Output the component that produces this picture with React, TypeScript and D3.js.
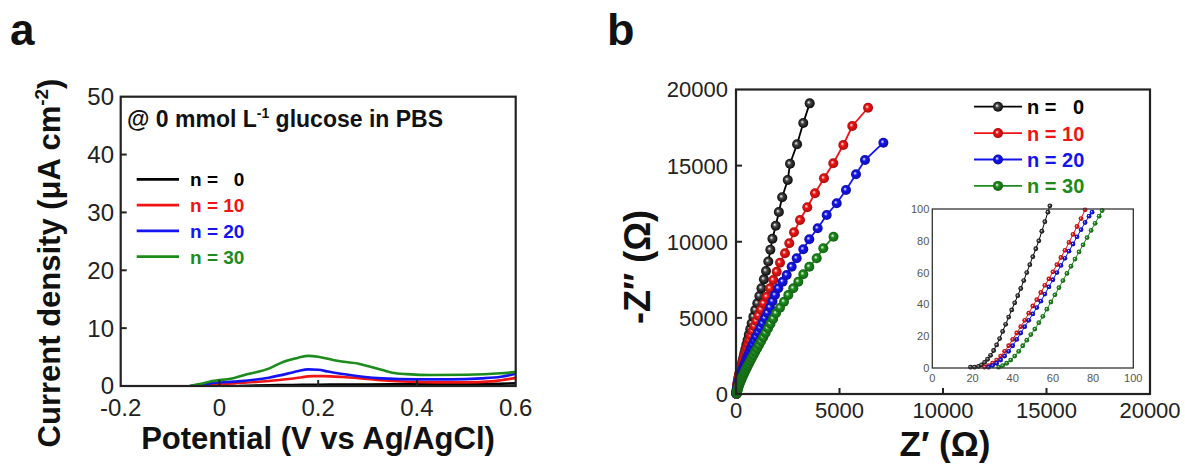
import React from 'react';
import * as d3 from 'd3';

const FONT = "'Liberation Sans', Arial, Helvetica, sans-serif";

// ---------- shared legend ----------
const seriesNames = ['n =   0', 'n = 10', 'n = 20', 'n = 30'];
const seriesColors = ['#000000', '#f01414', '#1414f0', '#1c8c1c'];

// ---------- panel a : current density vs potential ----------
const aXTicks = [-0.2, 0, 0.2, 0.4, 0.6];
const aXTickLabels = ['-0.2', '0', '0.2', '0.4', '0.6'];
const aYTicks = [0, 10, 20, 30, 40, 50];

const cvN0: [number, number][] = [
  [0.04, 0], [0.1, 0.12], [0.15, 0.17], [0.2, 0.22], [0.3, 0.27], [0.4, 0.29], [0.5, 0.3], [0.55, 0.35], [0.6, 0.46],
];
const cvN10: [number, number][] = [
  [-0.05, 0], [-0.04, 0.05], [0, 0.3], [0.03, 0.46], [0.1, 0.86], [0.15, 1.3], [0.19, 1.7], [0.21, 1.7], [0.25, 1.55],
  [0.3, 1.2], [0.35, 0.86], [0.4, 0.7], [0.45, 0.63], [0.5, 0.63], [0.55, 0.8], [0.57, 1.0], [0.6, 1.4],
];
const cvN20: [number, number][] = [
  [-0.06, 0], [-0.04, 0.2], [-0.02, 0.45], [0.03, 0.75], [0.1, 1.44], [0.14, 2.18], [0.16, 2.6], [0.18, 2.87], [0.2, 2.8],
  [0.22, 2.5], [0.25, 2.07], [0.29, 1.61], [0.33, 1.32], [0.4, 1.15], [0.47, 1.15], [0.53, 1.32], [0.57, 1.6], [0.6, 2.1],
];
const cvN30: [number, number][] = [
  [-0.06, 0], [-0.04, 0.35], [-0.02, 0.75], [0.03, 1.4], [0.06, 2.1], [0.1, 3.0], [0.13, 4.2], [0.16, 4.9], [0.18, 5.2],
  [0.2, 5.05], [0.23, 4.5], [0.26, 4.1], [0.28, 3.9], [0.3, 3.45], [0.33, 2.75], [0.35, 2.3], [0.38, 2.05], [0.43, 1.9],
  [0.5, 1.95], [0.57, 2.2], [0.6, 2.4],
];

// ---------- panel b : Nyquist plot ----------
const bTicks = [0, 5000, 10000, 15000, 20000];

const eisN0: [number, number][] = [
  [19, 5], [20, 25], [22, 60], [25, 100], [29, 140], [33, 185], [38, 235], [44, 290], [50, 350], [57, 420], [66, 490],
  [76, 570], [88, 660], [100, 760], [115, 870], [130, 990], [150, 1120], [170, 1260], [195, 1410], [220, 1580],
  [250, 1760], [285, 1960], [320, 2180], [360, 2410], [400, 2660], [450, 2940], [500, 3230], [560, 3550], [620, 3890],
  [690, 4260], [760, 4650], [840, 5080], [930, 5520], [1030, 5960], [1130, 6440], [1230, 6950], [1350, 7530],
  [1450, 8080], [1560, 8700], [1660, 9480], [1760, 10200], [1920, 11050], [2070, 11950], [2230, 12920], [2500, 14050],
  [2610, 15120], [2950, 16400], [3250, 17800], [3560, 19090],
];
const eisN10: [number, number][] = [
  [25, 5], [25, 30], [26, 70], [27, 110], [29, 160], [31, 210], [34, 270], [38, 330], [43, 400], [49, 470], [56, 550],
  [64, 630], [74, 720], [85, 820], [98, 920], [113, 1030], [130, 1150], [150, 1270], [172, 1400], [198, 1540],
  [228, 1690], [260, 1850], [298, 2020], [338, 2200], [380, 2390], [425, 2590], [475, 2810], [530, 3040], [590, 3290],
  [655, 3550], [725, 3830], [805, 4130], [890, 4450], [985, 4790], [1090, 5150], [1210, 5540], [1340, 5950],
  [1483, 6391], [1643, 6942], [1802, 7488], [1966, 8033], [2126, 8624], [2367, 9241], [2575, 9898], [2802, 10621],
  [3092, 11429], [3444, 12263], [3816, 13182], [4251, 14168], [4700, 15153], [5184, 16355], [5618, 17603],
  [6380, 18800],
];
const eisN20: [number, number][] = [
  [30, 10], [32, 45], [35, 90], [39, 140], [44, 200], [50, 260], [57, 330], [66, 400], [76, 480], [88, 560], [102, 650],
  [120, 740], [140, 840], [162, 940], [186, 1050], [212, 1170], [242, 1300], [275, 1430], [310, 1570], [350, 1720],
  [395, 1880], [442, 2040], [492, 2220], [545, 2400], [605, 2600], [668, 2810], [738, 3030], [812, 3260], [892, 3510],
  [980, 3770], [1075, 4050], [1178, 4340], [1288, 4650], [1400, 4980], [1520, 5330], [1640, 5700], [1760, 6090],
  [1884, 6502], [2043, 6942], [2256, 7376], [2449, 7816], [2690, 8361], [2932, 8913], [3251, 9504], [3541, 10161],
  [3947, 10883], [4382, 11757], [4865, 12525], [5314, 13399], [5797, 14430], [6232, 15369], [7120, 16506],
];
const eisN30: [number, number][] = [
  [37, 15], [40, 50], [45, 90], [51, 135], [58, 185], [67, 240], [77, 300], [90, 360], [106, 430], [124, 500], [145, 580],
  [168, 660], [194, 750], [222, 840], [254, 940], [288, 1050], [325, 1160], [366, 1280], [410, 1410], [458, 1550],
  [510, 1690], [566, 1840], [628, 2000], [695, 2180], [768, 2360], [845, 2560], [928, 2770], [1018, 2990], [1112, 3220],
  [1212, 3470], [1318, 3730], [1430, 4010], [1545, 4310], [1668, 4620], [1795, 4950], [1932, 5300], [2126, 5668],
  [2319, 6062], [2527, 6502], [2768, 6942], [3010, 7376], [3251, 7862], [3541, 8361], [3899, 8913], [4217, 9570],
  [4710, 10332],
];

// ---------- inset ----------
const insetTicks = [0, 20, 40, 60, 80, 100];
const insN0: [number, number][] = [
  [19, 0.5], [21, 0.5], [23, 1], [24.5, 2], [26, 3.5], [27.5, 5.5], [29, 8], [30.5, 11], [32, 14.5], [33.5, 18.5], [35, 23],
  [36.5, 27.5], [38, 32], [39.5, 36.5], [41, 41], [42.5, 45.5], [44, 50], [45.5, 55], [47, 60], [48.5, 65], [50, 70],
  [51.5, 75], [53, 80], [54.5, 86], [56, 92], [57.5, 98], [58.5, 102],
];
const insN10: [number, number][] = [
  [26, 0.5], [28, 1.5], [30, 3], [32, 5], [34, 7.5], [36, 10.5], [38, 14], [40, 18], [42, 22], [44, 26], [46, 30],
  [48, 34.5], [50, 39], [52, 43], [54, 47.5], [56, 52], [58, 56], [60, 60.5], [62, 65], [64, 69.5], [66, 74], [68, 79],
  [70, 84], [72, 89], [74, 94], [76, 99.5],
];
const insN20: [number, number][] = [
  [28, 0.5], [30, 1.5], [32, 3], [34, 5], [36, 7.5], [38, 10.5], [40, 14], [42, 18], [44, 22], [46, 26], [48, 30],
  [50, 34], [52, 38], [54, 42], [56, 46.5], [58, 51], [60, 55.5], [62, 60], [64, 64.5], [66, 69], [68, 73.5], [70, 78],
  [72, 82.5], [74, 87], [76, 91.5], [78, 95.5], [79.5, 98],
];
const insN30: [number, number][] = [
  [33, 0.5], [35, 1.5], [37, 3], [39, 5], [41, 7.5], [43, 10.5], [45, 14], [47, 17.5], [49, 21], [51, 24.5], [53, 28.5],
  [55, 32.5], [57, 37], [59, 41.5], [61, 46], [63, 50.5], [65, 55], [67, 59.5], [69, 64], [71, 68.5], [73, 73],
  [75, 77.5], [77, 82], [79, 86.5], [81, 91], [83, 95.5], [84.5, 99],
];

const cvSeries = [cvN0, cvN10, cvN20, cvN30];
const eisSeries = [eisN0, eisN10, eisN20, eisN30];
const insetSeries = [insN0, insN10, insN20, insN30];

export default function App() {
  // scales
  const xA = d3.scaleLinear().domain([-0.2, 0.6]).range([120.7, 515.7]);
  const yA = d3.scaleLinear().domain([0, 50]).range([386, 96.7]);
  const xB = d3.scaleLinear().domain([0, 20000]).range([736, 1150]);
  const yB = d3.scaleLinear().domain([0, 20000]).range([394, 89.5]);
  const xI = d3.scaleLinear().domain([0, 100]).range([932.3, 1133.3]);
  const yI = d3.scaleLinear().domain([0, 100]).range([368, 209]);

  const lineA = d3.line<[number, number]>().x(d => xA(d[0])).y(d => yA(d[1])).curve(d3.curveMonotoneX);
  const lineB = d3.line<[number, number]>().x(d => xB(d[0])).y(d => yB(d[1]));
  const lineI = d3.line<[number, number]>().x(d => xI(d[0])).y(d => yI(d[1]));

  const tickCol = '#222';
  const darker = (c: string) => d3.color(c)!.darker(1.2).formatHex();

  return (
    <svg width={1185} height={468} style={{ position: 'absolute', left: 0, top: 0, background: '#fff' }} fontFamily={FONT}>
      <defs>
        {seriesColors.map((c, i) => (
          <radialGradient key={i} id={`ball${i}`} cx="50%" cy="50%" r="55%" fx="38%" fy="38%">
            <stop offset="0%" stopColor="#ffffff" />
            <stop offset="35%" stopColor={i === 0 ? '#444' : c} />
            <stop offset="100%" stopColor={i === 0 ? '#000' : darker(c)} />
          </radialGradient>
        ))}
        <clipPath id="clipA">
          <rect x={xA(-0.2)} y={yA(50)} width={xA(0.6) - xA(-0.2)} height={yA(0) - yA(50)} />
        </clipPath>
      </defs>
      <rect x={0} y={0} width={1185} height={468} fill="#fff" />

      {/* ================= Panel a ================= */}
      <text x={10} y={45} fontSize={44} fontWeight="bold" fill="#111">a</text>

      <g clipPath="url(#clipA)">
        {cvSeries.map((s, i) => (
          <path key={i} d={lineA(s) || ''} fill="none" stroke={seriesColors[i]} strokeWidth={2.6} />
        ))}
      </g>

      <rect x={xA(-0.2)} y={yA(50)} width={xA(0.6) - xA(-0.2)} height={yA(0) - yA(50)} fill="none" stroke="#222" strokeWidth={2.2} />

      {aYTicks.map(t => (
        <g key={t}>
          {t > 0 && t < 50 && <line x1={xA(-0.2)} x2={xA(-0.2) + 6} y1={yA(t)} y2={yA(t)} stroke="#222" strokeWidth={2} />}
          <text x={114} y={t === 0 ? yA(t) - 1 : yA(t)} dy="0.36em" textAnchor="end" fontSize={24} fill={tickCol}>{t}</text>
        </g>
      ))}
      {aXTicks.map((t, i) => (
        <g key={t}>
          {i > 0 && i < aXTicks.length - 1 && <line x1={xA(t)} x2={xA(t)} y1={yA(0)} y2={yA(0) - 6} stroke="#222" strokeWidth={2} />}
          <text x={xA(t)} y={416} textAnchor="middle" fontSize={24} fill={tickCol}>{aXTickLabels[i]}</text>
        </g>
      ))}

      <text x={318} y={449} textAnchor="middle" fontSize={31} fontWeight="bold" fill="#111">Potential (V vs Ag/AgCl)</text>
      <text transform="translate(59.5,263) rotate(-90)" textAnchor="middle" fontSize={31} fontWeight="bold" fill="#111">
        Current density (μA cm<tspan dy={-12} fontSize={19}>-2</tspan><tspan dy={12}>)</tspan>
      </text>

      <text x={127} y={127} fontSize={23} fontWeight="bold" fill="#111">
        @ 0 mmol L<tspan dy={-9} fontSize={14}>-1</tspan><tspan dy={9}> glucose in PBS</tspan>
      </text>

      {seriesNames.map((n, i) => {
        const yy = 179.3 + i * 25.8;
        return (
          <g key={n}>
            <line x1={136.7} x2={179} y1={yy} y2={yy} stroke={seriesColors[i]} strokeWidth={2.8} />
            <text x={190} y={yy + 7} fontSize={19} fontWeight="bold" fill={seriesColors[i]} style={{ whiteSpace: 'pre' }}>{n}</text>
          </g>
        );
      })}

      {/* ================= Panel b ================= */}
      <text x={607} y={45} fontSize={45} fontWeight="bold" fill="#111">b</text>

      {eisSeries.map((s, i) => (
        <g key={i}>
          <path d={lineB(s) || ''} fill="none" stroke={seriesColors[i]} strokeWidth={1.8} />
          {s.map((d, j) => (
            <circle key={j} cx={xB(d[0])} cy={yB(d[1])} r={5} fill={`url(#ball${i})`} />
          ))}
        </g>
      ))}

      <rect x={xB(0)} y={yB(20000)} width={xB(20000) - xB(0)} height={yB(0) - yB(20000)} fill="none" stroke="#222" strokeWidth={2.2} />
      {bTicks.map(t => (
        <g key={t}>
          {t > 0 && t < 20000 && (
            <>
              <line x1={xB(0)} x2={xB(0) + 6} y1={yB(t)} y2={yB(t)} stroke="#222" strokeWidth={2} />
              <line x1={xB(t)} x2={xB(t)} y1={yB(0)} y2={yB(0) - 6} stroke="#222" strokeWidth={2} />
            </>
          )}
          <text x={728} y={yB(t)} dy="0.36em" textAnchor="end" fontSize={22} fill={tickCol}>{t}</text>
          <text x={xB(t)} y={418} textAnchor="middle" fontSize={22} fill={tickCol}>{t}</text>
        </g>
      ))}

      <text x={945} y={456} textAnchor="middle" fontSize={35} fontWeight="bold" fill="#111">Z′ (Ω)</text>
      <text transform="translate(650,267) rotate(-90)" textAnchor="middle" fontSize={36} fontWeight="bold" fill="#111">-Z″ (Ω)</text>

      {seriesNames.map((n, i) => {
        const yy = 106.7 + i * 26.4;
        return (
          <g key={n}>
            <line x1={974} x2={1022} y1={yy} y2={yy} stroke={seriesColors[i]} strokeWidth={1.8} />
            <circle cx={998} cy={yy} r={5} fill={`url(#ball${i})`} />
            <text x={1027} y={yy + 7.5} fontSize={20} fontWeight="bold" fill={seriesColors[i]} style={{ whiteSpace: 'pre' }}>{n}</text>
          </g>
        );
      })}

      {/* ================= Inset ================= */}
      <rect x={xI(0)} y={yI(100)} width={xI(100) - xI(0)} height={yI(0) - yI(100)} fill="#fff" />
      <g>
        {insetSeries.map((s, i) => (
          <g key={i}>
            <path d={lineI(s) || ''} fill="none" stroke={seriesColors[i]} strokeWidth={1} />
            {s.map((d, j) => (
              <circle key={j} cx={xI(d[0])} cy={yI(d[1])} r={2.4} fill={`url(#ball${i})`} />
            ))}
          </g>
        ))}
      </g>
      <rect x={xI(0)} y={yI(100)} width={xI(100) - xI(0)} height={yI(0) - yI(100)} fill="none" stroke="#333" strokeWidth={1.3} />
      {insetTicks.map(t => (
        <g key={t}>
          <text x={xI(0) - 3} y={yI(t)} dy="0.36em" textAnchor="end" fontSize={11} fill="#555">{t}</text>
          <text x={xI(t)} y={yI(0) + 14} textAnchor="middle" fontSize={11} fill="#555">{t}</text>
        </g>
      ))}
    </svg>
  );
}
